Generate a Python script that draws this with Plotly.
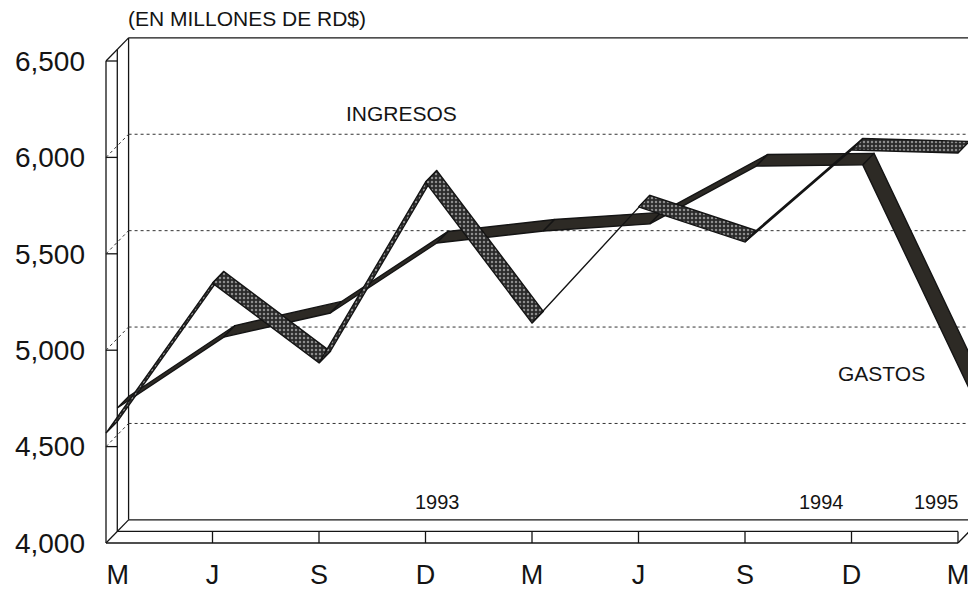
import plotly.graph_objects as go

# ---------------- data ----------------
months = ["M", "J", "S", "D", "M", "J", "S", "D", "M"]
ingresos = [4570, 5348, 4934, 5872, 5141, 5743, 5561, 6038, 6023]
gastos = [4640, 5008, 5133, 5496, 5558, 5595, 5895, 5901, 4739]
y_ticks = [4000, 4500, 5000, 5500, 6000, 6500]
y_tick_text = ["4,000", "4,500", "5,000", "5,500", "6,000", "6,500"]
year_text = ["1993", "1994", "1995"]
series_names = ["INGRESOS", "GASTOS"]
unit_text = "(EN MILLONES DE RD$)"

# ---------------- geometry / style ----------------
# the page body has an 8px margin, so the figure is 8px smaller than the window
W, H = 968, 582
DX, DY = 0.106, 60.0          # depth of one ribbon slot (x in categories, y in value units)
X0, X1 = -0.1878, 8.169       # x range
Y0, Y1 = 3932.57, 6774.9      # y range
YMIN, YMAX = y_ticks[0], y_ticks[-1]
N = len(months)
FONT = "Liberation Sans, Arial, sans-serif"
INK = "#141414"

fig = go.Figure()


def ribbon(vals, slot, fillcolor, pattern=None):
    for i in range(len(vals) - 1):
        xa = i + slot * DX
        xb = i + 1 + slot * DX
        ya = vals[i] + slot * DY
        yb = vals[i + 1] + slot * DY
        xs = [xa, xb, xb + DX, xa + DX, xa]
        ys = [ya, yb, yb + DY, ya + DY, ya]
        kw = dict(
            x=xs, y=ys, mode="lines", fill="toself",
            line=dict(color=INK, width=1.4),
            hoverinfo="skip", showlegend=False,
        )
        if pattern is not None:
            kw["fillpattern"] = pattern
        else:
            kw["fillcolor"] = fillcolor
        fig.add_trace(go.Scatter(**kw))


# GASTOS in the back slot, INGRESOS in the front slot
ribbon(gastos, 1, "#2d2a25")
ribbon(ingresos, 0, None, pattern=dict(shape=".", bgcolor="#2a2a2a", fgcolor="#8c8c8c",
                                       size=4, solidity=0.3, fillmode="replace"))

shapes = []


def line(xa, ya, xb, yb, dash="solid", width=1.3, color=INK, layer="below"):
    shapes.append(dict(type="line", xref="x", yref="y", x0=xa, y0=ya, x1=xb, y1=yb,
                       line=dict(color=color, width=width, dash=dash), layer=layer))


# back wall
line(2 * DX, YMIN + 2 * DY, 2 * DX, YMAX + 2 * DY)
line(2 * DX, YMAX + 2 * DY, X1, YMAX + 2 * DY)
# left wall
line(0, YMIN, 0, YMAX)
line(DX, YMIN + DY, DX, YMAX + DY)
line(0, YMAX, 2 * DX, YMAX + 2 * DY)
line(0, YMIN, 2 * DX, YMIN + 2 * DY)
for v in y_ticks[1:]:
    line(0, v, DX, v)
# gridlines
for v in y_ticks[1:-1]:
    line(0, v, 2 * DX, v + 2 * DY, dash="dot", width=1, color="#333333")
    line(2 * DX, v + 2 * DY, X1, v + 2 * DY, dash="dot", width=1, color="#333333")
# floor
line(0, YMIN, N - 1, YMIN)
line(DX, YMIN + DY, N - 1, YMIN + DY)
line(2 * DX, YMIN + 2 * DY, X1, YMIN + 2 * DY)
line(N - 1, YMIN, N - 1 + 2 * DX, YMIN + 2 * DY)
for k in range(1, N):
    line(k, YMIN, k, YMIN + DY)

annotations = [
    dict(text=unit_text, x=1.32, y=6723, font=dict(size=21)),
    dict(text=series_names[0], x=2.77, y=6230, font=dict(size=21)),
    dict(text=series_names[1], x=7.28, y=4880, font=dict(size=21)),
    dict(text=year_text[0], x=3.11, y=4213, font=dict(size=20)),
    dict(text=year_text[1], x=6.72, y=4213, font=dict(size=20)),
    dict(text=year_text[2], x=7.8, y=4213, font=dict(size=20)),
]
for a in annotations:
    a.update(xref="x", yref="y", showarrow=False, xanchor="center", yanchor="middle")
    a["font"].update(family=FONT, color=INK)

tick_pos = list(range(N))
tick_pos[0] = 0.11

fig.update_layout(
    width=W, height=H,
    margin=dict(l=78, r=0, t=0, b=34),
    paper_bgcolor="white", plot_bgcolor="white",
    shapes=shapes, annotations=annotations,
    showlegend=False,
    xaxis=dict(range=[X0, X1], tickmode="array", tickvals=tick_pos, ticktext=months,
               showgrid=False, zeroline=False, showline=False, ticks="",
               tickfont=dict(family=FONT, size=27, color=INK), fixedrange=True),
    yaxis=dict(range=[Y0, Y1], tickmode="array", tickvals=y_ticks, ticktext=y_tick_text,
               showgrid=False, zeroline=False, showline=False, ticks="",
               tickfont=dict(family=FONT, size=28, color=INK), fixedrange=True),
)

fig.write_html("out.html")
